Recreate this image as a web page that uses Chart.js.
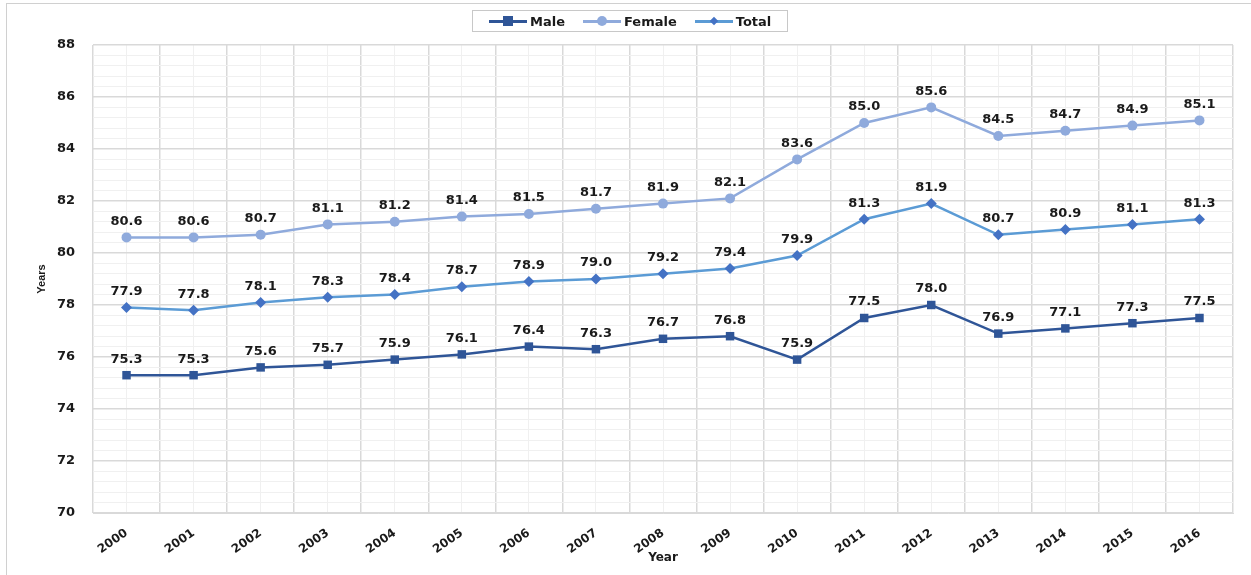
<!DOCTYPE html>
<html lang="en">

<head>
    <meta charset="UTF-8">
    <title>Life expectancy</title>
    <script src="https://cdn.jsdelivr.net/npm/chart.js"></script>
    <style>
        body { margin: 0; background: #fff; font-family: "DejaVu Sans", sans-serif; }
        .wrap { position: relative; width: 1251px; height: 575px; overflow: hidden; }
        .frame { position: absolute; left: 6px; top: 3px; width: 1260px; height: 600px; border: 1px solid #d0d0d0; }
        canvas { position: absolute; left: 0; top: 0; }
        .legend { position: absolute; left: 472px; top: 10px; width: 316px; height: 22px; border: 1px solid #c8c8c8;
            font-weight: bold; font-size: 13px; color: #1a1a1a; display: flex; align-items: center; padding-left: 16px; box-sizing: border-box; }
        .item { display: flex; align-items: center; margin-right: 18px; }
        .sym { position: relative; width: 38px; height: 12px; margin-right: 3px; }
        .sym .ln { position: absolute; left: 0; right: 0; top: 5px; height: 2.5px; }
        .sym .mk { position: absolute; left: 50%; top: 50%; transform: translate(-50%, -50%); }
    </style>
</head>

<body>
    <div class="wrap">
        <div class="frame"></div>
        <canvas id="chart" width="1251" height="575"></canvas>
        <div class="legend">
            <div class="item"><div class="sym"><div class="ln" style="background:#2F5597"></div><div class="mk" style="width:10px;height:10px;background:#2F5597"></div></div>Male</div>
            <div class="item"><div class="sym"><div class="ln" style="background:#8FAADC"></div><div class="mk" style="width:10px;height:10px;border-radius:50%;background:#8FAADC"></div></div>Female</div>
            <div class="item"><div class="sym"><div class="ln" style="background:#5B9BD5"></div><div class="mk" style="width:6px;height:6px;background:#4472C4;transform:translate(-50%,-50%) rotate(45deg)"></div></div>Total</div>
        </div>
    </div>

    <script>
        const years = ['2000', '2001', '2002', '2003', '2004', '2005', '2006', '2007', '2008',
            '2009', '2010', '2011', '2012', '2013', '2014', '2015', '2016'];
        const male = [75.3, 75.3, 75.6, 75.7, 75.9, 76.1, 76.4, 76.3, 76.7, 76.8, 75.9, 77.5, 78.0, 76.9, 77.1, 77.3, 77.5];
        const female = [80.6, 80.6, 80.7, 81.1, 81.2, 81.4, 81.5, 81.7, 81.9, 82.1, 83.6, 85.0, 85.6, 84.5, 84.7, 84.9, 85.1];
        const total = [77.9, 77.8, 78.1, 78.3, 78.4, 78.7, 78.9, 79.0, 79.2, 79.4, 79.9, 81.3, 81.9, 80.7, 80.9, 81.1, 81.3];
        const yMin = 70, yMax = 88;

        const boldFont = { family: 'DejaVu Sans', weight: 'bold', size: 13 };
        const isMajor = (v, step) => Math.abs(v / step - Math.round(v / step)) < 1e-6;

        // value labels above every point
        const valueLabels = {
            id: 'valueLabels',
            afterDatasetsDraw(chart) {
                const ctx = chart.ctx;
                ctx.save();
                ctx.font = 'bold 13px "DejaVu Sans"';
                ctx.fillStyle = '#1a1a1a';
                ctx.textAlign = 'center';
                ctx.textBaseline = 'middle';
                chart.data.datasets.forEach((ds, i) => {
                    chart.getDatasetMeta(i).data.forEach((pt, j) => {
                        ctx.fillText(ds.data[j].toFixed(1), pt.x, pt.y - 16);
                    });
                });
                ctx.restore();
            }
        };

        new Chart(document.getElementById('chart').getContext('2d'), {
            type: 'line',
            data: {
                labels: years,
                datasets: [{
                    label: 'Male',
                    data: male,
                    borderColor: '#2F5597',
                    backgroundColor: '#2F5597',
                    borderWidth: 2.5,
                    pointStyle: 'rect',
                    pointRadius: 6,
                    pointBorderWidth: 0,
                    tension: 0
                }, {
                    label: 'Female',
                    data: female,
                    borderColor: '#8FAADC',
                    backgroundColor: '#8FAADC',
                    borderWidth: 2.5,
                    pointStyle: 'circle',
                    pointRadius: 5,
                    pointBorderWidth: 0,
                    tension: 0
                }, {
                    label: 'Total',
                    data: total,
                    borderColor: '#5B9BD5',
                    backgroundColor: '#4472C4',
                    borderWidth: 2.5,
                    pointStyle: 'rectRot',
                    pointRadius: 5.5,
                    pointBorderWidth: 0,
                    tension: 0
                }]
            },
            options: {
                responsive: false,
                animation: false,
                layout: { padding: { top: 45, right: 18, left: 0, bottom: 0 } },
                plugins: { legend: { display: false }, tooltip: { enabled: false } },
                scales: {
                    x: {
                        offset: true,
                        grid: { display: false },
                        border: { display: true, color: '#d9d9d9' },
                        ticks: { font: { family: 'DejaVu Sans', weight: 'bold', size: 12 }, color: '#1a1a1a', maxRotation: 35, minRotation: 35, padding: 5, autoSkip: false },
                        title: { display: true, text: 'Year', font: { family: 'DejaVu Sans', weight: 'bold', size: 12 }, color: '#1a1a1a', padding: { top: 0, bottom: 10 } },
                        afterFit(s) { s.height = 62; }
                    },
                    xg: {
                        type: 'linear',
                        position: 'bottom',
                        min: -0.5,
                        max: years.length - 0.5,
                        display: true,
                        ticks: { display: false, stepSize: 0.5, autoSkip: false },
                        border: { display: false },
                        grid: {
                            drawTicks: false,
                            color: c => isMajor(c.tick.value + 0.5, 1) ? '#d9d9d9' : '#f0f0f0',
                            lineWidth: c => isMajor(c.tick.value + 0.5, 1) ? 1.5 : 1
                        },
                        afterFit(s) { s.height = 0; }
                    },
                    y: {
                        min: yMin,
                        max: yMax,
                        border: { display: false },
                        ticks: {
                            stepSize: 0.4,
                            autoSkip: false,
                            font: boldFont,
                            color: '#1a1a1a',
                            padding: 18,
                            callback: v => isMajor(v, 2) ? Math.round(v) : ''
                        },
                        grid: {
                            drawTicks: false,
                            color: c => isMajor(c.tick.value, 2) ? '#d9d9d9' : '#f0f0f0',
                            lineWidth: c => isMajor(c.tick.value, 2) ? 1.5 : 1
                        },
                        title: { display: true, text: 'Years', font: { family: 'Liberation Sans', weight: 'bold', size: 11 }, color: '#1a1a1a', padding: { top: 35, bottom: 0 } },
                        afterFit(s) { s.width = 93; }
                    }
                }
            },
            plugins: [valueLabels]
        });
    </script>
</body>

</html>
